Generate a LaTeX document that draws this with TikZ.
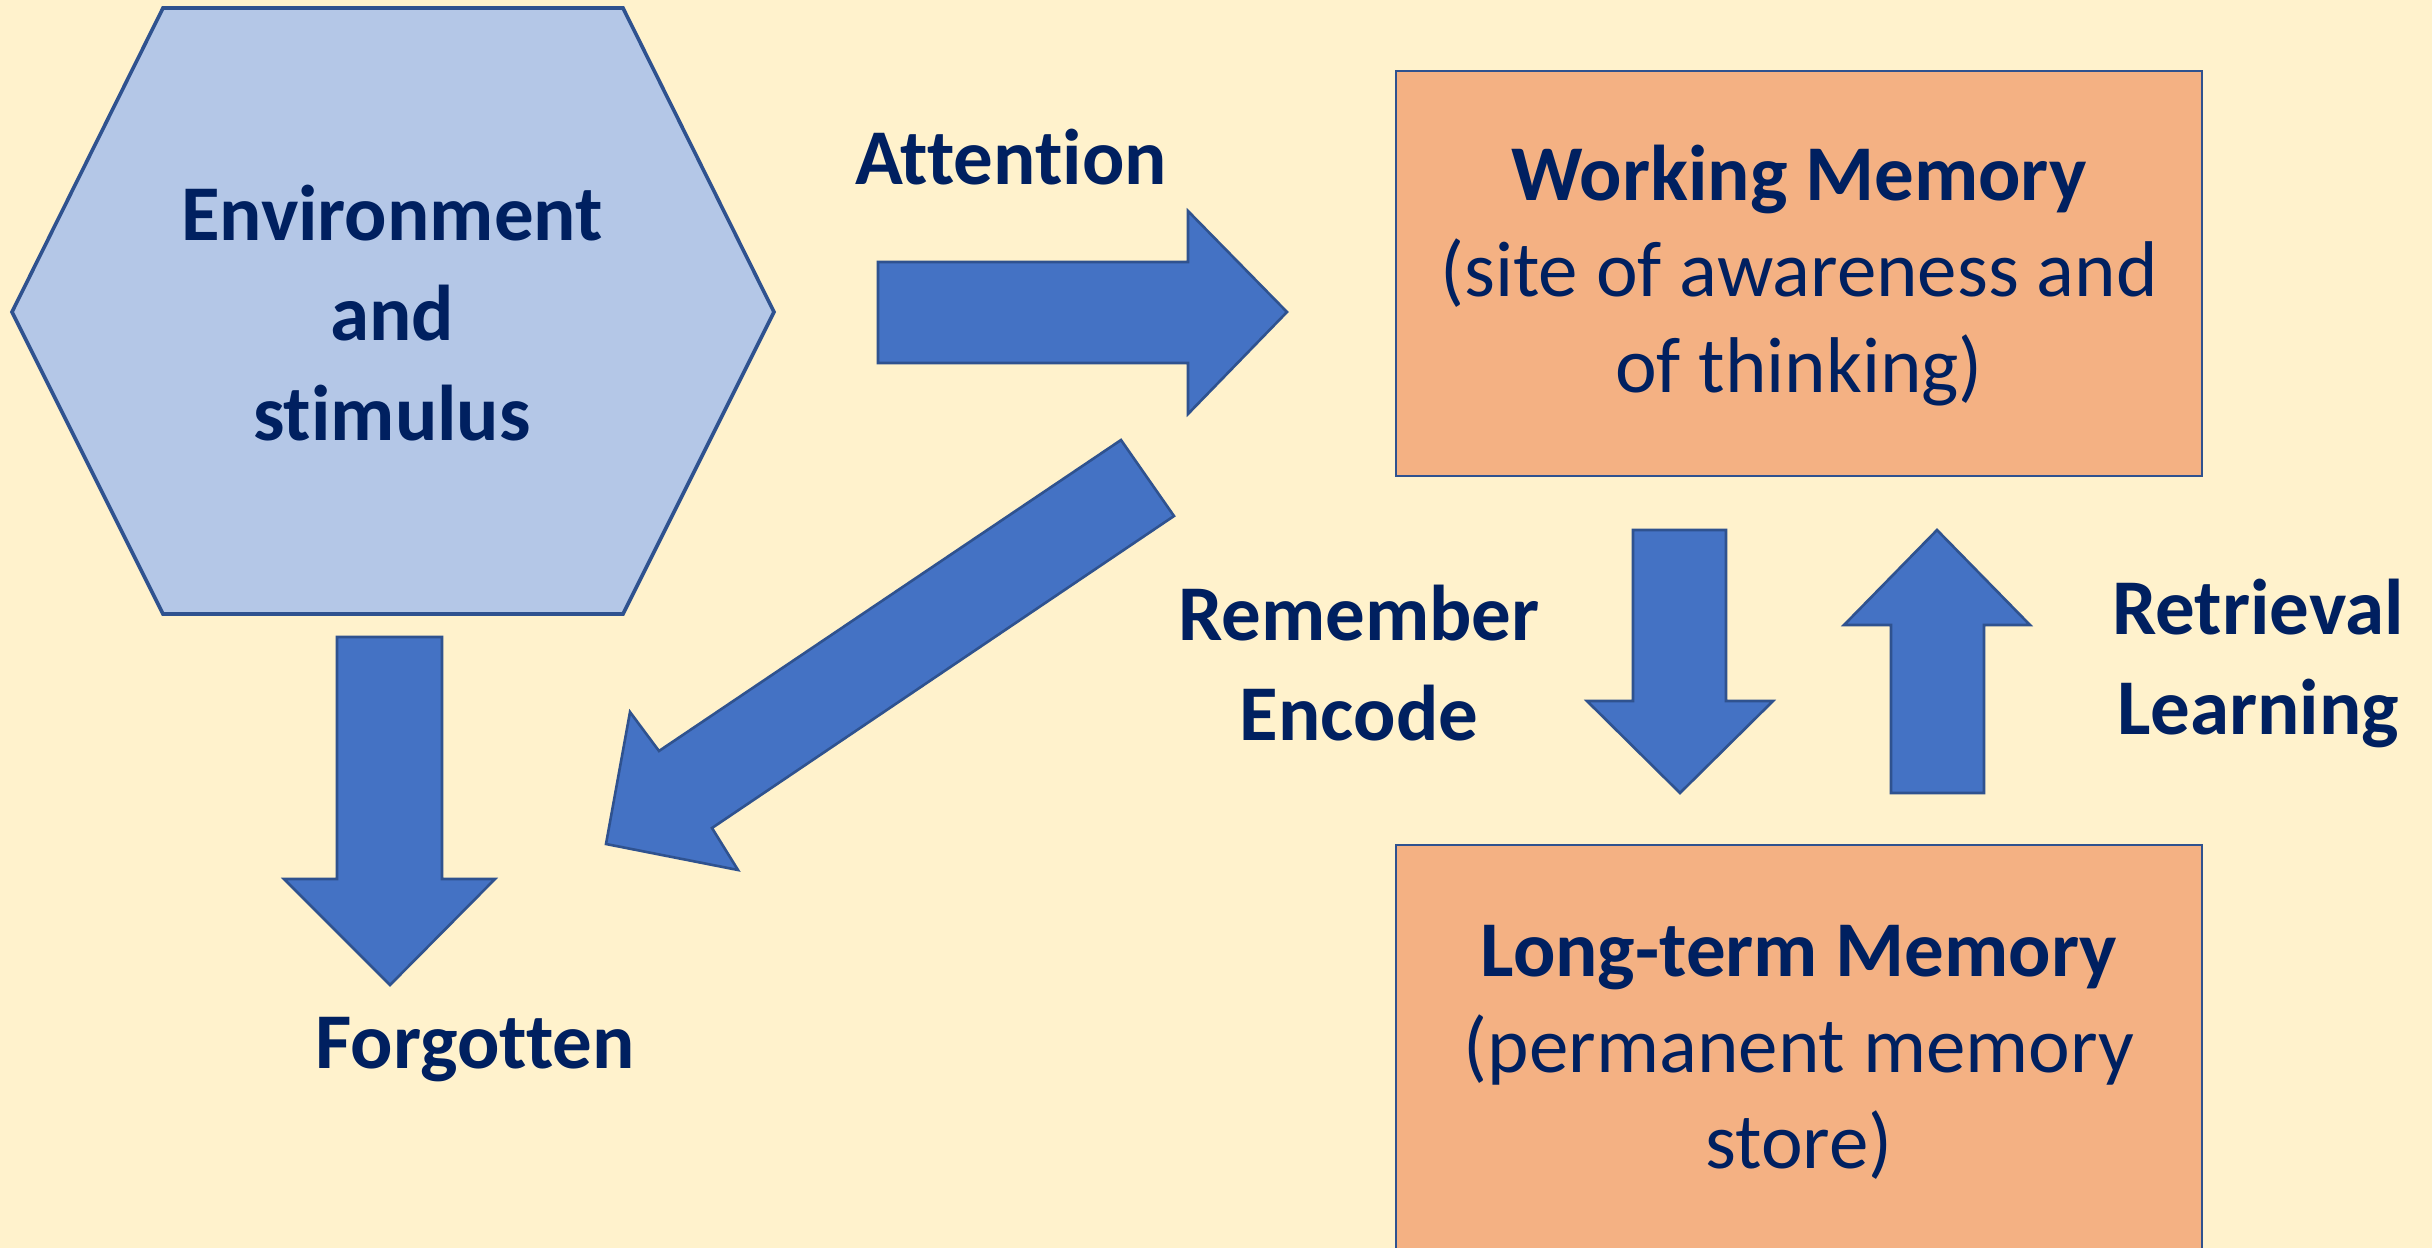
\documentclass[tikz,border=0pt]{standalone}
\usepackage{fontspec}
\setmainfont[Ligatures={NoCommon}]{Carlito}
\definecolor{bg}{HTML}{FFF2CC}
\definecolor{hexfill}{HTML}{B4C7E7}
\definecolor{edge}{HTML}{2F528F}
\definecolor{arrowfill}{HTML}{4472C4}
\definecolor{boxfill}{HTML}{F4B183}
\definecolor{ink}{HTML}{002060}
\tikzset{
  blockarrow/.style={fill=arrowfill, draw=edge, line width=1.3pt, line join=miter},
  memorybox/.style={fill=boxfill, draw=edge, line width=1.3pt, rectangle},
  hexshape/.style={fill=hexfill, draw=edge, line width=1.8pt, line join=miter},
  label/.style={text=ink, font=\fontsize{39.5}{48}\selectfont\bfseries, align=center, inner sep=0pt},
  plainlabel/.style={text=ink, font=\fontsize{39.5}{48}\selectfont, align=center, inner sep=0pt},
}
\begin{document}
\begin{tikzpicture}[x=0.5pt,y=-0.5pt]
\fill[bg] (0,0) rectangle (2432,1248);
\useasboundingbox (0,0) rectangle (2432,1248);

% hexagon
\draw[hexshape] (163,8) -- (623,8) -- (774,312) -- (623,614) -- (163,614) -- (12,312) -- cycle;
\node[label] (env) at (392,313) {Environment\\[2pt]and\\[2pt]stimulus};

% boxes
\node[memorybox, minimum width=403pt, minimum height=202.5pt, inner sep=0pt] (wm) at (1799,273.5) {};
\node[plainlabel] (wmtext) at (1799,276) {\textbf{Working Memory}\\(site of awareness and\\of thinking)};
\path[memorybox] (1396,845) rectangle (2202,1260);
\coordinate (ltm) at (1799,845);
\node[plainlabel] (ltmtext) at (1799,1052) {\textbf{Long-term Memory}\\(permanent memory\\store)};

% attention arrow
\draw[blockarrow] (878,262) -- (1188,262) -- (1188,211) -- (1287,312) -- (1188,414) -- (1188,363) -- (878,363) -- cycle;
\node[label] (att) at (1011,157) {Attention};

% forgotten arrow
\draw[blockarrow] (337,637) -- (442,637) -- (442,879) -- (495,879) -- (390,985) -- (284,879) -- (337,879) -- cycle;
\node[label] (forg) at (475,1050) {Forgotten};

% diagonal arrow
\draw[blockarrow] (1121,440) -- (1174,516) -- (712,828) -- (738,870) -- (606,844) -- (630,712) -- (659,751) -- cycle;

% remember / encode arrow
\draw[blockarrow] (1633,530) -- (1726,530) -- (1726,701) -- (1773,701) -- (1680,793) -- (1587,701) -- (1633,701) -- cycle;
\node[label] (enc) at (1359,663) {Remember\\[2pt]Encode};

% retrieval arrow
\draw[blockarrow] (1891,793) -- (1984,793) -- (1984,625) -- (2030,625) -- (1937,530) -- (1844,625) -- (1891,625) -- cycle;
\node[label] (ret) at (2258,663) {Retrieval\\[2pt]Learning};
\end{tikzpicture}
\end{document}
